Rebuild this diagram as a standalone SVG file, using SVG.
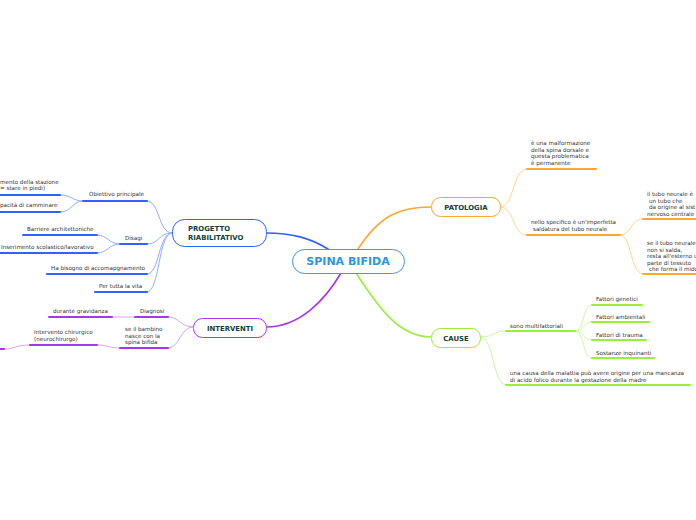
<svg xmlns="http://www.w3.org/2000/svg" width="696" height="520" viewBox="0 0 696 520">
<style>
.t{font-family:"DejaVu Sans",Verdana,sans-serif;font-size:5.6px;fill:#333}
.n{font-family:"DejaVu Sans",Verdana,sans-serif;font-size:6.9px;font-weight:bold;fill:#0f3f38}
.c{fill:none;stroke-linecap:round}
.b{stroke:#2f62ff}.bl{stroke:#8fb0ff}
.o{stroke:#ffa733}.ol{stroke:#ffd690}
.g{stroke:#98ef3c}.gl{stroke:#cdf7a4}
.p{stroke:#a735ee}.pl{stroke:#d9a6f7}
.u{stroke-width:2}
.m{stroke-width:1.6}
.s{stroke-width:1}
</style>
<rect width="696" height="520" fill="#fff"/>
<g id="connectors">
<path class="c b m" d="M328 249 C310 238 292 233 266 233"/>
<path class="c p m" d="M341 273 C325 300 300 327 266 327"/>
<path class="c o m" d="M358 249 C380 215 400 207 431 207"/>
<path class="c g m" d="M356 273 C380 310 400 337 431 337"/>
<path class="c ol s" d="M500 207 C515 207 512 169 527 169 M500 207 C515 207 512 235 527 235 M620 235 C632 235 630 219 643 219 M620 235 C632 235 630 274 643 274"/>
<path class="c o u" d="M527 169 H596 M527 235 H620 M643 219 H696 M643 274 H696"/>
<path class="c gl s" d="M480 337 C495 337 492 331 506 331 M480 337 C495 337 492 385 506 385 M575 331 C585 331 582 305 592 305 M575 331 C585 331 582 322 592 322 M575 331 C585 331 582 340 592 340 M575 331 C585 331 582 358 592 358"/>
<path class="c g u" d="M506 331 H575 M506 385 H690 M592 305 H642 M592 322 H649 M592 340 H646 M592 358 H654"/>
<path class="c pl s" d="M193 327 C180 327 180 317 168 317 M193 327 C180 327 180 348 168 348 M135 317 H112 M120 348 C108 348 108 345 97 345 M30 345 C15 345 15 349 4 349"/>
<path class="c p u" d="M135 317 H168 M49 317 H112 M120 348 H168 M30 345 H97 M0 349 H4"/>
<path class="c bl s" d="M172 233 C158 233 160 201 147 201 M172 233 C158 233 160 244 147 244 M172 233 C158 233 160 274 147 274 M172 233 C158 233 160 292 147 292 M83 201 C72 201 72 195 60 195 M83 201 C72 201 72 212 60 212 M120 244 C108 244 108 235 97 235 M120 244 C108 244 108 253 97 253"/>
<path class="c b u" d="M83 201 H147 M120 244 H147 M47 274 H147 M95 292 H147 M0 195 H60 M0 212 H60 M23 235 H97 M0 253 H97"/>
</g>
<g id="center">
<rect x="292.5" y="249.5" width="112" height="24" rx="12" fill="#fff" stroke="#3d9ae6" stroke-width="1"/>
<text x="348" y="265" text-anchor="middle" style="font-family:'DejaVu Sans',Verdana,sans-serif;font-size:11px;font-weight:bold;fill:#2a96e2">SPINA BIFIDA</text>
</g>
<g id="patologia">
<rect x="431.5" y="197.5" width="69" height="19" rx="9" fill="#fff" stroke="#ffa733" stroke-width="1"/>
<text class="n" x="466" y="209.5" text-anchor="middle">PATOLOGIA</text>
</g>
<g id="cause">
<rect x="431.5" y="328.5" width="49" height="19" rx="9" fill="#fff" stroke="#98ef3c" stroke-width="1"/>
<text class="n" x="456" y="340.5" text-anchor="middle">CAUSE</text>
</g>
<g id="interventi">
<rect x="193.5" y="318.5" width="73" height="19" rx="9" fill="#fff" stroke="#a735ee" stroke-width="1"/>
<text class="n" x="230" y="330.5" text-anchor="middle">INTERVENTI</text>
</g>
<g id="progetto">
<rect x="172.5" y="219.5" width="94" height="27" rx="12" fill="#fff" stroke="#2f62ff" stroke-width="1"/>
<text class="n" x="188" y="231">PROGETTO</text>
<text class="n" x="188" y="240">RIABILITATIVO</text>
</g>
<g id="pat-1"><text class="t" x="531" y="145">è una malformazione</text><text class="t" x="531" y="151.5">della spina dorsale e</text><text class="t" x="531" y="158">questa problematica</text><text class="t" x="531" y="164.5">è permanente</text></g>
<g id="pat-2"><text class="t" x="531" y="224">nello specifico è un'imperfetta</text><text class="t" x="533" y="230.5">saldatura del tubo neurale</text></g>
<g id="pat-2-1"><text class="t" x="647" y="196">il tubo neurale è</text><text class="t" x="649" y="202.5">un tubo che</text><text class="t" x="649" y="209">da origine al sist</text><text class="t" x="647" y="215.5">nervoso centrale</text></g>
<g id="pat-2-2"><text class="t" x="647" y="245">se il tubo neurale</text><text class="t" x="647" y="251.5">non si salda,</text><text class="t" x="647" y="258">resta all'esterno u</text><text class="t" x="647" y="264.5">parte di tessuto</text><text class="t" x="649" y="271">che forma il mido</text></g>
<g id="cause-1"><text class="t" x="510" y="328">sono multifattoriali</text></g>
<g id="cause-1-1"><text class="t" x="596" y="301">Fattori genetici</text></g>
<g id="cause-1-2"><text class="t" x="596" y="319">Fattori ambientali</text></g>
<g id="cause-1-3"><text class="t" x="596" y="337">Fattori di trauma</text></g>
<g id="cause-1-4"><text class="t" x="596" y="355">Sostanze inquinanti</text></g>
<g id="cause-2"><text class="t" x="510" y="375">una causa della malattia può avere origine per una mancanza</text><text class="t" x="510" y="381.5">di acido folico durante la gestazione della madre</text></g>
<g id="int-1"><text class="t" x="140" y="313">Diagnosi</text></g>
<g id="int-1-1"><text class="t" x="53" y="313">durante gravidanza</text></g>
<g id="int-2"><text class="t" x="125" y="331">se il bambino</text><text class="t" x="125" y="337.5">nasce con la</text><text class="t" x="125" y="344">spina bifida</text></g>
<g id="int-2-1"><text class="t" x="34" y="334">Intervento chirurgico</text><text class="t" x="34" y="340.5">(neurochirurgo)</text></g>
<g id="prog-1"><text class="t" x="89" y="196">Obiettivo principale</text></g>
<g id="prog-1-1"><text class="t" x="0" y="184">mento della stazione</text><text class="t" x="0" y="190">= stare in piedi)</text></g>
<g id="prog-1-2"><text class="t" x="0" y="207">pacità di camminare</text></g>
<g id="prog-2"><text class="t" x="125" y="240">Disagi</text></g>
<g id="prog-2-1"><text class="t" x="27" y="231">Barriere architettoniche</text></g>
<g id="prog-2-2"><text class="t" x="1" y="249">Inserimento scolastico/lavorativo</text></g>
<g id="prog-3"><text class="t" x="51" y="270">Ha bisogno di accomapgnamento</text></g>
<g id="prog-4"><text class="t" x="99" y="288">Per tutta la vita</text></g>
</svg>
